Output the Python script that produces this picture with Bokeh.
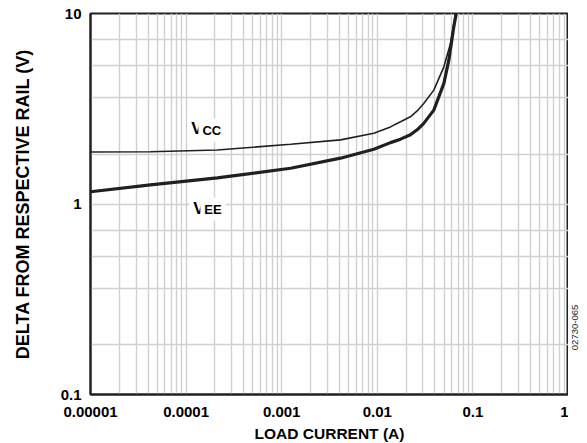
import math
from bokeh.plotting import figure
from bokeh.models import FixedTicker, CustomJSTickFormatter, Label
from bokeh.layouts import row
from bokeh.core.properties import value
from bokeh.embed import file_html
from bokeh.resources import INLINE

# ---- data ----
vcc_x = [1e-5, 4.24e-5, 2.12e-4, 1.24e-3, 4.12e-3, 9.2e-3, 0.01374, 0.0175,
         0.0222, 0.0263, 0.0306, 0.039, 0.0497, 0.0583, 0.0658]
vcc_y = [1.874, 1.88, 1.92, 2.06, 2.17, 2.35, 2.54, 2.70,
         2.87, 3.09, 3.37, 3.96, 5.25, 6.96, 10.0]

vee_x = [1e-5, 4.24e-5, 2.12e-4, 1.24e-3, 4.12e-3, 9.2e-3, 0.01374, 0.0175,
         0.0222, 0.0263, 0.0306, 0.039, 0.0497, 0.056, 0.0631, 0.0669]
vee_y = [1.16, 1.26, 1.37, 1.54, 1.74, 1.94, 2.10, 2.19,
         2.31, 2.46, 2.65, 3.11, 4.30, 5.69, 8.5, 10.0]

x_ticks = [1e-5, 1e-4, 1e-3, 1e-2, 1e-1, 1.0]
x_tick_labels = ["0.00001", "0.0001", "0.001", "0.01", "0.1", "1"]
y_ticks = [0.1, 1.0, 10.0]
y_tick_labels = ["0.1", "1", "10"]
y_minor_factors = [1.82, 3.62, 5.31, 7.28]

x_title = "LOAD CURRENT (A)"
y_title = "DELTA FROM RESPECTIVE RAIL (V)"
code_text = "02730-065"

INK = "#231f20"
GRID = "#d0d0d0"
FONT = "Liberation Sans"

x_minor = [m * d for d in x_ticks[:-1] for m in range(2, 10)]
y_minor = [f * d for d in y_ticks[:-1] for f in y_minor_factors]

p = figure(frame_width=478, frame_height=381, x_axis_type="log", y_axis_type="log",
           x_range=(1e-5, 1), y_range=(0.1, 10),
           output_backend="svg", toolbar_location=None,
           min_border_left=90, min_border_right=0,
           min_border_top=13, min_border_bottom=49)

p.xaxis.ticker = FixedTicker(ticks=x_ticks, minor_ticks=x_minor)
p.yaxis.ticker = FixedTicker(ticks=y_ticks, minor_ticks=y_minor)

fmt_code = """
for (let i = 0; i < tks.length; i++) {
  if (Math.abs(Math.log10(tick) - Math.log10(tks[i])) < 1e-6) return labs[i];
}
return "";
"""
p.xaxis.formatter = CustomJSTickFormatter(args=dict(tks=x_ticks, labs=x_tick_labels), code=fmt_code)
p.yaxis.formatter = CustomJSTickFormatter(args=dict(tks=y_ticks, labs=y_tick_labels), code=fmt_code)

for ax in (p.xaxis, p.yaxis):
    ax.major_tick_line_color = None
    ax.minor_tick_line_color = None
    ax.major_tick_out = 0
    ax.major_tick_in = 0
    ax.axis_line_color = INK
    ax.axis_line_width = 2
    ax.major_label_text_font = FONT
    ax.major_label_text_font_style = "bold"
    ax.major_label_text_font_size = "15px"
    ax.major_label_text_color = "#000000"

p.xaxis.major_label_standoff = 8
p.yaxis.major_label_standoff = 5

p.yaxis.axis_label = y_title
p.yaxis.axis_label_text_font = FONT
p.yaxis.axis_label_text_font_style = "bold"
p.yaxis.axis_label_text_font_size = "18px"
p.yaxis.axis_label_text_color = "#000000"
p.yaxis.axis_label_standoff = 25

p.xaxis.axis_label = x_title
p.xaxis.axis_label_text_font = FONT
p.xaxis.axis_label_text_font_style = "bold"
p.xaxis.axis_label_text_font_size = "15.5px"
p.xaxis.axis_label_text_color = "#000000"
p.xaxis.axis_label_standoff = 5

for g in (p.xgrid, p.ygrid):
    g.grid_line_color = GRID
    g.grid_line_width = 1.4
    g.minor_grid_line_color = GRID
    g.minor_grid_line_width = 1.4

p.outline_line_color = INK
p.outline_line_width = 2
p.outline_line_alpha = 1.0
p.background_fill_color = "white"
p.border_fill_color = "white"

p.line(vcc_x, vcc_y, line_color=INK, line_width=1.6)
p.line(vee_x, vee_y, line_color=INK, line_width=3.2)

def lab(x, y, text, size, **kw):
    l = Label(x=x, y=y, text=text, text_font=FONT, text_font_style="bold",
              text_font_size=size, text_color="#000000", **kw)
    p.add_layout(l)
    return l

# curve labels with white boxes
lab(1.03e-4, 2.49, "V", "17px", text_baseline="alphabetic",
    background_fill_color="white", padding=4)
lab(1.345e-4, 2.44, "CC", "13px", text_baseline="alphabetic",
    background_fill_color="white", padding=4)
lab(1.08e-4, 0.946, "V", "17px", text_baseline="alphabetic",
    background_fill_color="white", padding=4)
lab(1.41e-4, 0.941, "EE", "13px", text_baseline="alphabetic",
    background_fill_color="white", padding=4)

# narrow strip on the right holding the figure code
side = figure(width=12, height=443, x_range=(0, 12), y_range=(0, 443),
              output_backend="svg", toolbar_location=None,
              min_border=0, min_border_left=0, min_border_right=0,
              min_border_top=0, min_border_bottom=0)
side.axis.visible = False
side.grid.visible = False
side.outline_line_color = None
side.background_fill_color = "white"
side.border_fill_color = "white"
side.text(x=[6], y=[77], text=[code_text], angle=math.pi / 2,
          text_align="center", text_baseline="middle",
          text_font=value(FONT), text_font_size="9.5px", text_color=INK)

layout = row(p, side, spacing=0)
open("out.html", "w").write(file_html(layout, INLINE))
